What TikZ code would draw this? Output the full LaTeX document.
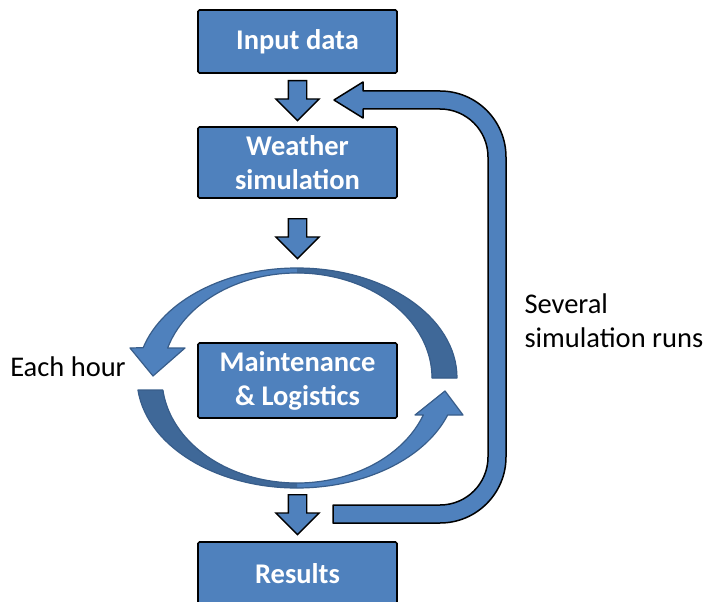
\documentclass[tikz,border=0pt]{standalone}
\usepackage{fontspec}
\setmainfont{Carlito}
\usepackage{tikz}
\usetikzlibrary{shapes.arrows}
\definecolor{office}{HTML}{4F81BD}
\definecolor{officedark}{HTML}{3F6898}
\definecolor{officeline}{HTML}{385D8A}
\newcommand\slidefont{\fontsize{28.5}{34}\selectfont}
\tikzset{
  box/.style={draw=black,line width=1.6pt,fill=office,text=white,font=\slidefont\bfseries,
    minimum width=199pt,align=center,inner sep=0pt,rounded corners=1.5pt},
  darr/.style={single arrow,draw=black,line width=1.3pt,fill=office,rotate=-90,
    anchor=tail,inner sep=8.5pt,minimum height=40pt,single arrow head extend=12.5pt},
}
% outlines of the two curved arrows round the hourly step
\newcommand\cycletop{([shift={(0:160pt and 110pt)}]cyc)
  arc[start angle=0,end angle=164,x radius=160pt,y radius=110pt]
  -- (130,-348) -- (153,-376) -- (185,-348)
  -- ([shift={(163.4:135pt and 105pt)}]cyc)
  arc[start angle=163.4,end angle=0,x radius=135pt,y radius=105pt] -- cycle}
\newcommand\cyclebottom{([shift={(186.3:160pt and 110pt)}]cyc)
  arc[start angle=186.3,end angle=340.3,x radius=160pt,y radius=110pt]
  -- (463,-415) -- (445,-391) -- (415,-415)
  -- ([shift={(339.4:135pt and 105pt)}]cyc)
  arc[start angle=339.4,end angle=186.6,x radius=135pt,y radius=105pt] -- cycle}

\begin{document}
\begin{tikzpicture}[x=1pt,y=1pt,font=\slidefont]
\useasboundingbox (0,0) rectangle (705,-602);
\coordinate (cyc) at (297,-378);

% the four steps
\node[box,minimum height=63pt] (in) at (297.5,-41.5) {Input data};
\node[box,minimum height=71pt] (wea) at (297.5,-162.5) {Weather\\simulation};
\node[box,minimum height=75pt] (ml) at (297.5,-380.5) {Maintenance\\\& Logistics};
\node[box,minimum height=63pt] (res) at (297.5,-573.5) {Results};

% block arrows between the steps
\node[darr] (a1) at (297.5,-80) {};
\node[darr] (a2) at (297.5,-218) {};
\node[darr] (a3) at (297.5,-494) {};

% hourly loop
\fill[office] \cycletop;
\fill[officedark] ([shift={(0:160pt and 110pt)}]cyc)
  arc[start angle=0,end angle=90,x radius=160pt,y radius=110pt]
  -- ([shift={(90:135pt and 105pt)}]cyc)
  arc[start angle=90,end angle=0,x radius=135pt,y radius=105pt] -- cycle;
\draw[officeline,line width=1.2pt,line join=round] \cycletop;
\fill[office] \cyclebottom;
\fill[officedark] ([shift={(186.3:160pt and 110pt)}]cyc)
  arc[start angle=186.3,end angle=270,x radius=160pt,y radius=110pt]
  -- ([shift={(270:135pt and 105pt)}]cyc)
  arc[start angle=270,end angle=186.6,x radius=135pt,y radius=105pt] -- cycle;
\draw[officeline,line width=1.2pt,line join=round] \cyclebottom;

% feedback of the runs
\draw[fill=office,line width=1.5pt,line join=round]
  (333,-523) -- (440,-523) arc[start angle=-90,end angle=0,radius=66pt]
  -- (506,-157) arc[start angle=0,end angle=90,radius=66pt]
  -- (363,-91) -- (363,-82) -- (334,-100) -- (363,-118) -- (363,-109)
  -- (440,-109) arc[start angle=90,end angle=0,radius=48pt]
  -- (488,-457) arc[start angle=0,end angle=-90,radius=48pt]
  -- (333,-505) -- cycle;

\node (hour) at (68,-367) {Each hour};
\node[align=left,anchor=west] (runs) at (521,-321) {Several\\simulation runs};
\end{tikzpicture}
\end{document}
